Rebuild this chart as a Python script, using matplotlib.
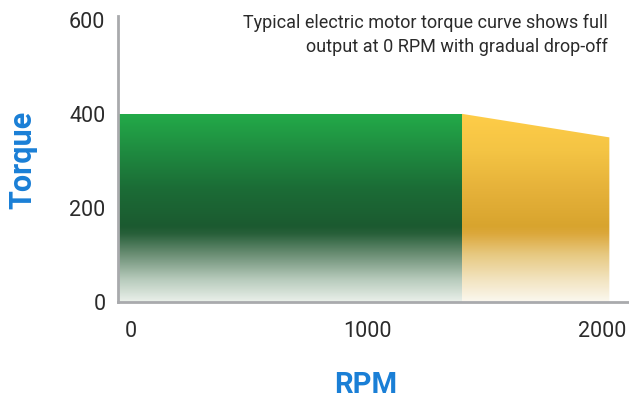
import numpy as np
import matplotlib
matplotlib.use('Agg')
import matplotlib.pyplot as plt
from matplotlib.colors import LinearSegmentedColormap
from matplotlib.patches import Polygon
from matplotlib import transforms

# data
constant_rpm = [0, 1400]
constant_torque = [400, 400]
dropoff_rpm = [1400, 2000]
dropoff_torque = [400, 350]
x_ticks = [0, 1000, 2000]
y_ticks = [0, 200, 400, 600]
note = "Typical electric motor torque curve shows full\noutput at 0 RPM with gradual drop-off"

plt.rcParams['font.family'] = ['Roboto', 'DejaVu Sans']

fig = plt.figure(figsize=(6.29, 3.98), dpi=100)
ax = fig.add_axes([118 / 629, 96 / 398, 1 - 118 / 629, (302 - 16) / 398])

green = LinearSegmentedColormap.from_list('g', [
    (0.0, '#eaf0ea'), (0.12, '#b6cabb'), (0.25, '#6c8f75'), (0.36, '#28603a'),
    (0.40, '#1c5a30'), (0.6, '#1b6c36'), (0.8, '#1f8b40'), (1.0, '#23ab49')])
yellow = LinearSegmentedColormap.from_list('y', [
    (0.0, '#fbf8ef'), (0.12, '#f2e3bf'), (0.25, '#e7c981'), (0.36, '#dca83c'),
    (0.40, '#d8a42e'), (0.6, '#e6b23a'), (0.8, '#f4c444'), (1.0, '#ffcd48')])

grad = np.linspace(0, 1, 256).reshape(-1, 1)
top = max(constant_torque + dropoff_torque)

for xs, ys, cmap in [(constant_rpm, constant_torque, green),
                     (dropoff_rpm, dropoff_torque, yellow)]:
    verts = [(xs[0], 0)] + list(zip(xs, ys)) + [(xs[-1], 0)]
    patch = Polygon(verts, closed=True, facecolor='none', edgecolor='none')
    ax.add_patch(patch)
    im = ax.imshow(grad, cmap=cmap, aspect='auto', origin='lower',
                   extent=(xs[0], xs[-1], 0, top), zorder=1)
    im.set_clip_path(patch)

ax.set_xlim(0, 2080)
ax.set_ylim(0, 608)

for s in ['top', 'right']:
    ax.spines[s].set_visible(False)
for s in ['left', 'bottom']:
    ax.spines[s].set_color('#a9aaad')
    ax.spines[s].set_linewidth(2)
    ax.spines[s].set_zorder(3)

ax.set_xticks(x_ticks)
ax.set_yticks(y_ticks)
ax.tick_params(length=0, labelsize=15.5, labelcolor='#2b2b2b')
ax.tick_params(axis='y', pad=9)
ax.tick_params(axis='x', pad=14)
# tick labels in the reference sit slightly off their tick positions
for lbl, dx in zip(ax.get_xticklabels(), [13, 4, -7]):
    lbl.set_transform(lbl.get_transform() + transforms.ScaledTranslation(dx / 100, 0, fig.dpi_scale_trans))

fig.text(22 / 629, 1 - 160 / 398, 'Torque', rotation=90, ha='center', va='center',
         fontsize=22, fontweight='bold', color='#1a7fd6')
fig.text(366 / 629, 1 - 385 / 398, 'RPM', ha='center', va='center',
         fontsize=21, fontweight='bold', color='#1a7fd6')
fig.text(608 / 629, 1 - 35 / 398, note, ha='right', va='center', fontsize=13,
         color='#2b2b2b', linespacing=1.45)

plt.savefig('out.png', dpi=100)
